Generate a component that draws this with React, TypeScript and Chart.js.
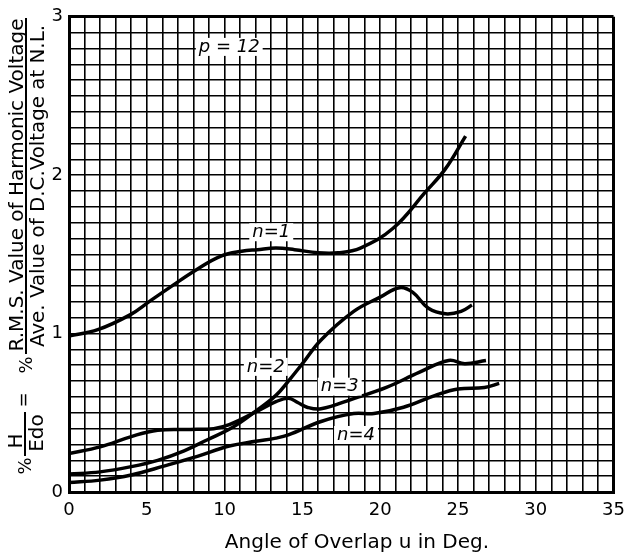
import React, { useEffect, useRef } from 'react';
import { Chart, registerables } from 'chart.js';

Chart.register(...registerables);

// ---- Data ----
const n1X = [0, 1.85, 3.95, 5.2, 6.46, 8.14, 9.8, 11.1, 12.1, 13.3, 14.5, 16, 17.3, 18.73, 20.83, 22.93, 24.19, 25.49];
const n1Y = [0.985, 1.025, 1.12, 1.205, 1.29, 1.4, 1.49, 1.52, 1.53, 1.54, 1.53, 1.51, 1.51, 1.54, 1.665, 1.896, 2.04, 2.247];

const n2X = [0, 2, 4, 5.7, 7.4, 8.9, 10.55, 12, 13.3, 14.1, 15, 16.2, 18.3, 20, 21.25, 22.1, 23.1, 24.2, 25.2, 25.9];
const n2Y = [0.113, 0.127, 0.16, 0.2, 0.26, 0.33, 0.41, 0.51, 0.61, 0.7, 0.81, 0.96, 1.14, 1.23, 1.29, 1.26, 1.16, 1.125, 1.14, 1.18];

const n3X = [0, 2, 4, 5.7, 7.8, 9.3, 10.3, 12.2, 13.3, 14.1, 14.7, 15.3, 16.2, 18.3, 20.4, 22.5, 24.4, 25.45, 26.8];
const n3Y = [0.243, 0.285, 0.35, 0.39, 0.395, 0.4, 0.425, 0.515, 0.57, 0.592, 0.565, 0.535, 0.525, 0.59, 0.66, 0.755, 0.83, 0.81, 0.83];

const n4X = [0, 2, 4, 6.15, 8.25, 10.3, 12, 13.3, 14.1, 16.2, 18.3, 19.6, 21.5, 23.55, 25, 26.7, 27.65];
const n4Y = [0.06, 0.075, 0.107, 0.165, 0.225, 0.29, 0.32, 0.34, 0.36, 0.445, 0.495, 0.495, 0.535, 0.61, 0.65, 0.66, 0.686];

const xTickLabels = [0, 5, 10, 15, 20, 25, 30, 35];
const yTickLabels = [0, 1, 2, 3];

const curveLabels = ['p = 12', 'n=1', 'n=2', 'n=3', 'n=4'];
const curveLabelX = [10.3, 13.0, 12.65, 17.4, 18.45];
const curveLabelY = [2.81, 1.64, 0.79, 0.665, 0.36];

const xTitle = 'Angle of Overlap u in Deg.';
const yNumerator = 'R.M.S. Value of Harmonic Voltage';
const yDenominator = 'Ave. Value of D.C.Voltage at N.L.';

const FONT = '"DejaVu Sans", "Liberation Sans", sans-serif';

function pts(xs: number[], ys: number[]) {
  return xs.map((x, i) => ({ x, y: ys[i] }));
}

const labelPlugin = {
  id: 'curveLabels',
  afterDatasetsDraw(chart: any) {
    const ctx = chart.ctx;
    const xs = chart.scales.x;
    const ys = chart.scales.y;
    ctx.save();
    ctx.font = `italic 18px ${FONT}`;
    ctx.textAlign = 'center';
    ctx.textBaseline = 'middle';
    curveLabels.forEach((t, i) => {
      const px = xs.getPixelForValue(curveLabelX[i]);
      const py = ys.getPixelForValue(curveLabelY[i]);
      const w = ctx.measureText(t).width;
      ctx.fillStyle = '#fff';
      ctx.fillRect(px - w / 2 - 3, py - 9, w + 6, 18);
      ctx.fillStyle = '#000';
      ctx.fillText(t, px, py);
    });
    ctx.restore();
  },
};

function rotText(ctx: any, text: string, sx: number, sy: number, maxW?: number) {
  ctx.save();
  ctx.translate(sx, sy);
  ctx.rotate(-Math.PI / 2);
  if (maxW) ctx.fillText(text, 0, 0, maxW);
  else ctx.fillText(text, 0, 0);
  ctx.restore();
}

const titlePlugin = {
  id: 'titles',
  afterDraw(chart: any) {
    const ctx = chart.ctx;
    ctx.save();
    ctx.fillStyle = '#000';
    ctx.strokeStyle = '#000';
    // x title
    ctx.font = `20px ${FONT}`;
    ctx.textAlign = 'center';
    ctx.textBaseline = 'alphabetic';
    ctx.fillText(xTitle, 357, 548, 273);

    // y title (rotated)
    ctx.textAlign = 'center';
    ctx.textBaseline = 'alphabetic';
    ctx.font = `20px ${FONT}`;
    rotText(ctx, yNumerator, 23, 185, 334);
    rotText(ctx, yDenominator, 44, 186, 322);
    ctx.lineWidth = 2;
    ctx.beginPath();
    ctx.moveTo(26, 18);
    ctx.lineTo(26, 354);
    ctx.stroke();

    // small fraction H / Edo
    rotText(ctx, 'H', 22, 441);
    rotText(ctx, 'Edo', 43, 433);
    ctx.beginPath();
    ctx.moveTo(25, 412);
    ctx.lineTo(25, 456);
    ctx.stroke();

    ctx.textBaseline = 'middle';
    ctx.font = `18px ${FONT}`;
    rotText(ctx, '%', 26, 466);
    rotText(ctx, '=', 24, 400);
    rotText(ctx, '%', 27, 365);
    ctx.restore();
  },
};

export default function App() {
  const ref = useRef<HTMLCanvasElement | null>(null);
  useEffect(() => {
    if (!ref.current) return;
    const lw = (c: any) => {
      const n = c.scale.ticks.length;
      return c.index === 0 || c.index === n - 1 ? 3 : 1.6;
    };
    const ds = (xs: number[], ys: number[]) => ({
      data: pts(xs, ys),
      borderColor: '#000',
      borderWidth: 3.5,
      pointRadius: 0,
      showLine: true,
      tension: 0.4,
      fill: false,
    });
    const chart = new Chart(ref.current, {
      type: 'scatter',
      data: {
        datasets: [ds(n1X, n1Y), ds(n2X, n2Y), ds(n3X, n3Y), ds(n4X, n4Y)],
      },
      options: {
        animation: false,
        responsive: false,
        layout: { padding: { left: 0, top: 14, right: 8, bottom: 0 } },
        plugins: { legend: { display: false }, tooltip: { enabled: false } },
        scales: {
          x: {
            type: 'linear',
            min: 0,
            max: 35,
            afterFit: (s: any) => { s.height = 67; },
            ticks: {
              stepSize: 1,
              autoSkip: false,
              maxRotation: 0,
              padding: 8,
              color: '#000',
              font: { family: FONT, size: 18 },
              callback: (v: any) => {
                const r = Math.round(Number(v));
                return Math.abs(Number(v) - r) < 1e-6 && xTickLabels.includes(r) ? String(r) : '';
              },
            },
            grid: { color: '#000', lineWidth: lw, drawTicks: false },
            border: { color: '#000', width: 3 },
          },
          y: {
            type: 'linear',
            min: 0,
            max: 3,
            afterFit: (s: any) => { s.width = 69; },
            ticks: {
              stepSize: 0.1,
              autoSkip: false,
              maxTicksLimit: 100,
              padding: 6,
              color: '#000',
              font: { family: FONT, size: 18 },
              callback: (v: any) => {
                const r = Math.round(Number(v));
                return Math.abs(Number(v) - r) < 1e-6 && yTickLabels.includes(r) ? String(r) : '';
              },
            },
            grid: { color: '#000', lineWidth: lw, drawTicks: false },
            border: { color: '#000', width: 3 },
          },
        },
      },
      plugins: [labelPlugin, titlePlugin],
    } as any);
    return () => chart.destroy();
  }, []);
  return (
    <div style={{ position: 'absolute', left: 0, top: 0, width: 633, height: 559, background: '#fff' }}>
      <canvas ref={ref} width={633} height={559} style={{ display: 'block' }} />
    </div>
  );
}
